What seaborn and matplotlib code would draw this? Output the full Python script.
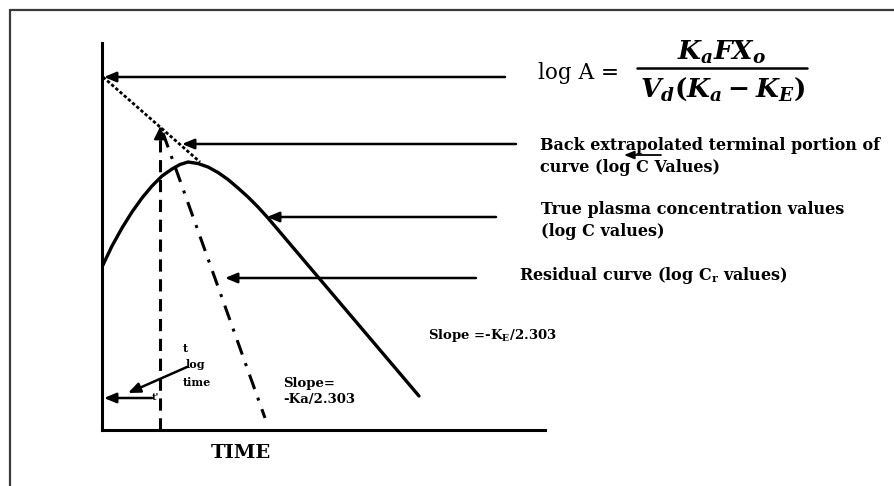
import matplotlib
matplotlib.use("Agg")
import matplotlib.pyplot as plt
import seaborn as sns

# Time axis (t) and log-concentration axis (v), in the diagram's own units
curve_t = [0, 10, 20, 30, 40, 50, 60, 70, 78, 86, 96, 106, 116, 126, 136, 146, 156, 166, 317]
curve_v = [163, 184, 202, 218, 232, 244, 254, 261, 265.5, 268, 266.5, 263, 257.5, 250.5, 242, 233, 223, 212, 34]

# Back-extrapolated terminal line (dotted)
extrap_t = [1, 98]
extrap_v = [353, 268]

# Residual line (dash-dot)
resid_t = [61, 163]
resid_v = [297, 12]

# Lag time marker (vertical dashed)
lag_t = [58, 58]
lag_v = [0, 303]

# Pointer arrows: (tail t, tail v, head t, head v)
pointers = [
    (403, 353, 2, 353),
    (414, 286, 80, 286),
    (394, 213, 165, 213),
    (374, 152, 123, 152),
    (50, 32, 2, 32),
    (85, 63, 26, 37),
]

sns.set_theme(style="white")
plt.rcParams["font.family"] = ["DejaVu Serif"]
plt.rcParams["mathtext.fontset"] = "custom"
plt.rcParams["mathtext.rm"] = "DejaVu Serif:bold"
plt.rcParams["mathtext.it"] = "DejaVu Serif:italic:bold"
plt.rcParams["mathtext.bf"] = "DejaVu Serif:bold"

W, H = 894, 486
fig = plt.figure(figsize=(W / 100, H / 100), dpi=100)
fig.patch.set_facecolor("white")

# outer frame (top and left edges)
fig.add_artist(plt.Line2D([10 / W, 1], [1 - 10 / H, 1 - 10 / H], transform=fig.transFigure,
                          color="#3a3a3a", lw=1.6))
fig.add_artist(plt.Line2D([10 / W, 10 / W], [0, 1 - 10 / H], transform=fig.transFigure,
                          color="#3a3a3a", lw=1.6))

ax = fig.add_axes([102 / W, (H - 430) / H, 443 / W, 387 / H])
ax.set_xlim(0, 443)
ax.set_ylim(0, 387)
sns.despine(ax=ax)
for s in ("left", "bottom"):
    ax.spines[s].set_color("black")
    ax.spines[s].set_linewidth(2.2)
ax.set_xticks([])
ax.set_yticks([])
ax.set_facecolor("white")

line_kw = dict(ax=ax, color="black", sort=False, estimator=None)
sns.lineplot(x=curve_t, y=curve_v, lw=2.4, **line_kw)
sns.lineplot(x=extrap_t, y=extrap_v, lw=2.0, ls=(0, (1.2, 0.8)), **line_kw)
sns.lineplot(x=resid_t, y=resid_v, lw=2.2, ls=(0, (5, 3, 1, 3)), **line_kw)
sns.lineplot(x=lag_t, y=lag_v, lw=2.2, ls=(0, (4, 2.5)), **line_kw)

arrow_style = dict(arrowstyle="-|>,head_length=0.6,head_width=0.25", color="black", lw=1.8,
                   shrinkA=0, shrinkB=0)
for t0, v0, t1, v1 in pointers:
    ax.annotate("", xy=(t1, v1), xytext=(t0, v0), arrowprops=arrow_style, annotation_clip=False)
# lag-time arrowhead at the top of the dashed marker
ax.annotate("", xy=(lag_t[1], lag_v[1]), xytext=(lag_t[1], lag_v[1] - 12),
            arrowprops=dict(arrowstyle="-|>,head_length=0.6,head_width=0.3", color="black", lw=1.5,
                            shrinkA=0, shrinkB=0), annotation_clip=False)
# small arrow over the label text
ax.annotate("", xy=(522, 275), xytext=(559, 275),
            arrowprops=dict(arrowstyle="-|>,head_length=0.5,head_width=0.2", color="black", lw=1.3,
                            shrinkA=0, shrinkB=0), annotation_clip=False)

txt = dict(color="black", fontweight="bold", clip_on=False)
fs = 11.5
ax.text(438, 285, "Back extrapolated terminal portion of", fontsize=fs, va="center", ha="left", **txt)
ax.text(438, 263, "curve (log C Values)", fontsize=fs, va="center", ha="left", **txt)
ax.text(439, 220, "True plasma concentration values", fontsize=fs, va="center", ha="left", **txt)
ax.text(439, 198, "(log C values)", fontsize=fs, va="center", ha="left", **txt)
ax.text(417, 155, r"Residual curve (log C$_{\mathrm{r}}$ values)", fontsize=fs, va="center", ha="left", **txt)
ax.text(326, 95, r"Slope =-K$_{\mathrm{E}}$/2.303", fontsize=9.5, va="center", ha="left", **txt)
ax.text(181, 47, "Slope=", fontsize=9.5, va="center", ha="left", **txt)
ax.text(181, 31, "-Ka/2.303", fontsize=9.5, va="center", ha="left", **txt)
ax.text(139, -23, "TIME", fontsize=14, va="center", ha="center", **txt)
ax.text(81, 82, "t", fontsize=8, va="center", ha="left", **txt)
ax.text(84, 65, "log", fontsize=8, va="center", ha="left", **txt)
ax.text(81, 48, "time", fontsize=8, va="center", ha="left", **txt)
ax.text(50, 33, "t'", fontsize=7, va="center", ha="left", **txt)

# formula for the intercept
ax.text(436, 357, r"log A =", fontsize=15.5, va="center", ha="left", color="black", clip_on=False)
ax.text(620, 378, r"$K_aFX_o$", fontsize=19, va="center", ha="center", **txt)
ax.text(620, 341, r"$V_d(K_a - K_E)$", fontsize=19, va="center", ha="center", **txt)
ax.plot([535, 705], [362, 362], color="black", lw=1.8, clip_on=False)

fig.savefig("out.png", dpi=100, facecolor="white")
